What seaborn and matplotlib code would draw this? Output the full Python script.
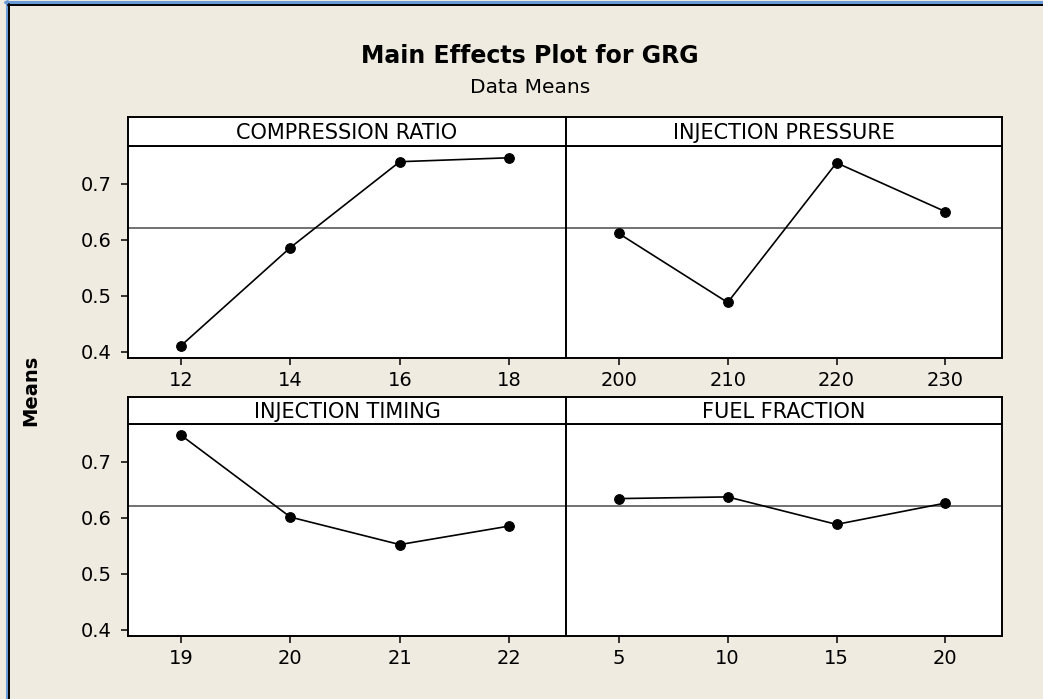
"""
Main effects plot (Minitab style) for the grey relational grade.
"""
import matplotlib
matplotlib.use("Agg")
import matplotlib.pyplot as plt
import seaborn as sns
import pandas as pd
from matplotlib.lines import Line2D

# ---------------------------------------------------------
# DATA
# ---------------------------------------------------------
factor_names = ["COMPRESSION RATIO", "INJECTION PRESSURE",
                "INJECTION TIMING", "FUEL FRACTION"]

cr_levels = [12, 14, 16, 18]
cr_means = [0.411, 0.586, 0.739, 0.746]

ip_levels = [200, 210, 220, 230]
ip_means = [0.611, 0.488, 0.737, 0.650]

it_levels = [19, 20, 21, 22]
it_means = [0.747, 0.601, 0.552, 0.585]

ff_levels = [5, 10, 15, 20]
ff_means = [0.634, 0.637, 0.588, 0.626]

grand_mean = 0.6205
y_ticks = [0.4, 0.5, 0.6, 0.7]
y_tick_labels = ["0.4", "0.5", "0.6", "0.7"]

# long table, one row per factor level
frames = []
for name, lv, mv in zip(factor_names,
                        [cr_levels, ip_levels, it_levels, ff_levels],
                        [cr_means, ip_means, it_means, ff_means]):
    frames.append(pd.DataFrame({"factor": name, "level": lv, "mean": mv}))
data = pd.concat(frames, ignore_index=True)

# ---------------------------------------------------------
# LAYOUT (pixel boxes of the original screenshot)
# ---------------------------------------------------------
W, H = 1043, 699
BG = "#efebe0"


def px_box(x0, y0, x1, y1):
    return [x0 / W, 1 - y1 / H, (x1 - x0) / W, (y1 - y0) / H]


col_x = [(128, 566), (566, 1002)]
plot_y = [(146, 358), (424, 636)]
head_y = [(117, 146), (397, 424)]

sns.set_style("ticks")
plt.rcParams["font.family"] = ["DejaVu Sans"]
plt.rcParams["text.color"] = "black"
plt.rcParams["xtick.color"] = "black"
plt.rcParams["ytick.color"] = "black"
plt.rcParams["xtick.labelcolor"] = "black"
plt.rcParams["ytick.labelcolor"] = "black"

fig = plt.figure(figsize=(W / 100, H / 100), dpi=100)
fig.patch.set_facecolor(BG)

for i, name in enumerate(factor_names):
    row, col = divmod(i, 2)
    x0, x1 = col_x[col]
    sub = data[data["factor"] == name]
    levels = list(sub["level"])

    ax = fig.add_axes(px_box(x0, plot_y[row][0], x1, plot_y[row][1]))
    ax.set_facecolor("white")
    ax.axhline(grand_mean, color="#4a4a4a", lw=1.1, zorder=1)
    sns.lineplot(data=sub, x="level", y="mean", ax=ax, color="black",
                 marker="o", markersize=7, markeredgecolor="black",
                 linewidth=1.2, zorder=3)

    step = levels[1] - levels[0]
    ax.set_xlim(levels[0] - 0.485 * step, levels[-1] + 0.52 * step)
    ax.set_ylim(0.389, 0.767)
    ax.set_xticks(levels)
    ax.set_xticklabels([str(v) for v in levels])
    if col == 0:
        ax.set_yticks(y_ticks)
        ax.set_yticklabels(y_tick_labels)
    else:
        ax.set_yticks([])
    ax.tick_params(axis="both", direction="out", length=5, width=1.1,
                   labelsize=14, colors="black")
    ax.tick_params(axis="x", pad=4.5)
    ax.tick_params(axis="y", pad=6.5)
    ax.set_xlabel("")
    ax.set_ylabel("")
    for sp in ax.spines.values():
        sp.set_visible(True)
        sp.set_linewidth(1.4)
        sp.set_color("black")

    # header strip
    hax = fig.add_axes(px_box(x0, head_y[row][0], x1, head_y[row][1]))
    hax.set_facecolor("white")
    hax.set_xticks([])
    hax.set_yticks([])
    for sp in hax.spines.values():
        sp.set_visible(True)
        sp.set_linewidth(1.4)
        sp.set_color("black")
    hax.text(0.5, 0.46, name, transform=hax.transAxes, ha="center",
             va="center", fontsize=15, color="black")

# ---------------------------------------------------------
# TITLES AND FRAME
# ---------------------------------------------------------
fig.text(530 / W, 1 - 63 / H, "Main Effects Plot for GRG", ha="center",
         va="baseline", fontsize=17, fontweight="bold", color="black")
fig.text(530 / W, 1 - 93 / H, "Data Means", ha="center", va="baseline",
         fontsize=14.5, color="black")
fig.text(31 / W, 1 - 390 / H, "Means", rotation=90, ha="center",
         va="center", fontsize=14, fontweight="bold", color="black")

# window border (blue) and graph border (black), top and left only
fig.add_artist(Line2D([6.5 / W, 6.5 / W], [0, 1 - 1 / H], color="#6a9bd8", lw=2.2))
fig.add_artist(Line2D([5 / W, 1], [1 - 1.5 / H, 1 - 1.5 / H], color="#6a9bd8", lw=2.2))
fig.add_artist(Line2D([9 / W, 9 / W], [0, 1 - 4 / H], color="black", lw=1.4))
fig.add_artist(Line2D([8 / W, 1], [1 - 5 / H, 1 - 5 / H], color="black", lw=1.4))

fig.savefig("out.png", dpi=100, facecolor=BG)
